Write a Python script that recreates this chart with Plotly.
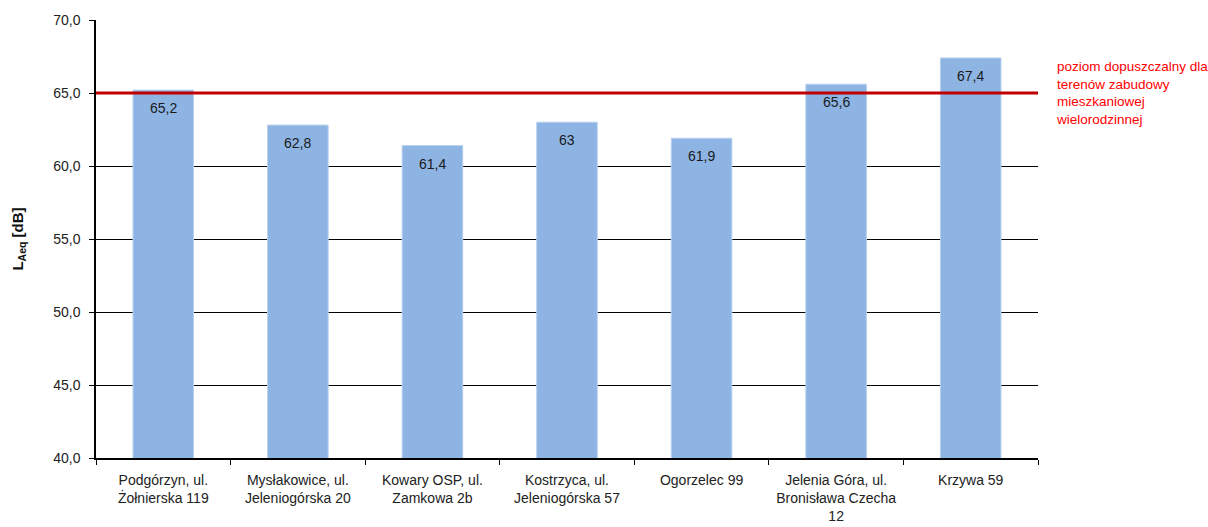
import plotly.graph_objects as go

categories = [
    "Podgórzyn, ul.<br>Żołnierska 119",
    "Mysłakowice, ul.<br>Jeleniogórska 20",
    "Kowary OSP, ul.<br>Zamkowa 2b",
    "Kostrzyca, ul.<br>Jeleniogórska 57",
    "Ogorzelec 99",
    "Jelenia Góra, ul.<br>Bronisława Czecha<br>12",
    "Krzywa 59",
]
values = [65.2, 62.8, 61.4, 63.0, 61.9, 65.6, 67.4]
value_labels = ["65,2", "62,8", "61,4", "63", "61,9", "65,6", "67,4"]
limit_value = 65.0
limit_label = "poziom dopuszczalny dla<br>terenów zabudowy<br>mieszkaniowej<br>wielorodzinnej"
y_ticks = [40, 45, 50, 55, 60, 65, 70]

FONT = "Liberation Sans"

fig = go.Figure()
fig.add_trace(go.Bar(
    x=categories, y=values,
    marker=dict(color="#8DB4E2", line=dict(color="#B8D0EE", width=1)),
    width=0.45,
))

fig.add_shape(type="line", xref="paper", x0=0, x1=1, yref="y", y0=limit_value, y1=limit_value,
              line=dict(color="#C00000", width=3), layer="above")

for c, v, t in zip(categories, values, value_labels):
    fig.add_annotation(x=c, y=v, yshift=-18, yanchor="middle", text=t, showarrow=False,
                       font=dict(family=FONT, size=14, color="#1a1a1a"))

fig.add_annotation(xref="paper", x=1, xshift=16, xanchor="left", yref="y", y=limit_value,
                   yanchor="middle", align="left", text=limit_label, showarrow=False,
                   font=dict(family=FONT, size=13.5, color="#FF0000"))

fig.update_layout(
    width=1208, height=527,
    margin=dict(l=96, r=170, t=20, b=69),
    paper_bgcolor="white", plot_bgcolor="white",
    separators=", ",
    showlegend=False,
    font=dict(family=FONT, size=14, color="#222222"),
)
fig.update_xaxes(
    showline=True, linecolor="black", linewidth=1.5,
    ticks="outside", tickson="boundaries", ticklen=5, tickcolor="black",
    ticklabelstandoff=8, automargin=False,
    tickfont=dict(family=FONT, size=14, color="#222222"),
)
fig.update_yaxes(
    range=[40, 70], tickvals=y_ticks, tickformat=".1f",
    showline=True, linecolor="black", linewidth=1.5,
    ticks="outside", ticklen=5, tickcolor="black",
    ticklabelstandoff=6, automargin=False,
    showgrid=True, gridcolor="black", gridwidth=1,
    tickfont=dict(family=FONT, size=14, color="#222222"),
    title=dict(text="<b>L<sub>Aeq</sub> [dB]</b>", font=dict(family=FONT, size=15, color="#111111"), standoff=26),
    zeroline=False,
)

fig.write_html("out.html")
